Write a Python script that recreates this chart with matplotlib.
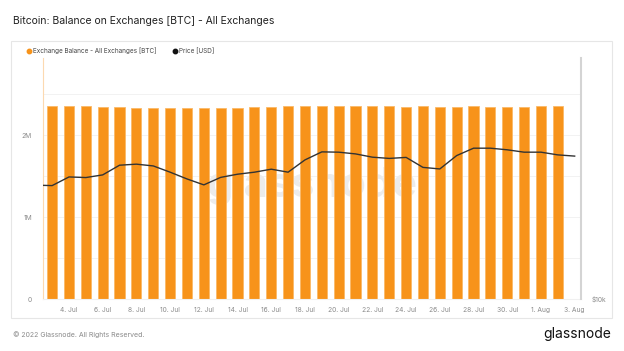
import numpy as np
import pandas as pd
from matplotlib import pyplot as plt
from matplotlib.lines import Line2D
from matplotlib.patches import Rectangle
from matplotlib.ticker import FixedLocator, FuncFormatter, NullLocator
import matplotlib.dates as mdates

plt.rcParams['font.family'] = ['Inter', 'DejaVu Sans']

# exchange balance, daily 3 Jul - 2 Aug 2022 (BTC)
balance_dates = pd.date_range("2022-07-03", "2022-08-02", freq="D")
balance = [2.357e6, 2.357e6, 2.356e6, 2.345e6, 2.337e6, 2.330e6, 2.330e6, 2.330e6,
           2.330e6, 2.335e6, 2.328e6, 2.326e6, 2.337e6, 2.345e6, 2.352e6, 2.358e6,
           2.358e6, 2.354e6, 2.354e6, 2.350e6, 2.349e6, 2.348e6, 2.351e6, 2.348e6,
           2.348e6, 2.349e6, 2.341e6, 2.341e6, 2.337e6, 2.349e6, 2.349e6]

# BTC price, daily 2 Jul - 3 Aug 2022 (USD)
price_dates = pd.date_range("2022-07-02", "2022-08-03", freq="D")
price = [19250, 19200, 20180, 20110, 20420, 21590, 21720, 21500, 20740, 19950,
         19280, 20130, 20500, 20740, 21100, 20740, 22260, 23310, 23270, 23040,
         22610, 22450, 22580, 21320, 21130, 22820, 23810, 23810, 23590, 23270,
         23270, 22910, 22750]

tick_dates = pd.date_range("2022-07-04", "2022-08-03", freq="2D")

orange = "#F7931A"
grey_txt = "#8a8a8a"

fig = plt.figure(figsize=(6.24, 3.51), dpi=100)
ax = fig.add_axes([43/624, 1-299/351, 538/624, 241/351])

# card behind the chart
fig.patches.append(Rectangle((11/624, 1-318/351), 601/624, 277/351, transform=fig.transFigure,
                             facecolor="white", edgecolor="#e6e6e6", lw=0.8, zorder=-10))

ax.bar(balance_dates, balance, width=0.6, color=orange, edgecolor="#FBB968", lw=0.6, zorder=2)
ax.set_ylim(0, 2.94e6)
ax.set_xlim(pd.Timestamp("2022-07-02 11:00"), pd.Timestamp("2022-08-03 09:00"))
ax.yaxis.set_major_locator(FixedLocator([0, 1e6, 2e6]))
ax.yaxis.set_minor_locator(FixedLocator([0.5e6, 1.5e6, 2.5e6]))
ax.yaxis.set_major_formatter(FuncFormatter(lambda v, p: "0" if v == 0 else f"{v/1e6:.0f}M"))
ax.grid(axis="y", which="both", color="#f2f2f2", lw=0.7, zorder=0)
ax.set_axisbelow(True)
ax.set_xticks(tick_dates)
ax.set_xticklabels([f"{d.day}. {d.strftime('%b')}" for d in tick_dates])
ax.tick_params(axis="both", which="both", length=0, labelsize=4.8, colors=grey_txt, pad=6)
ax.tick_params(axis="y", pad=8)
for s in ["top", "right"]:
    ax.spines[s].set_visible(False)
ax.spines["left"].set_color("#FCD9B0")
ax.spines["left"].set_linewidth(0.8)
ax.spines["bottom"].set_color("#f0f0f0")
ax.spines["bottom"].set_linewidth(0.8)

# watermark
ax.text(0.5, 0.47, "glassnode", transform=ax.transAxes, ha="center", va="center",
        fontsize=30, color="#ececec", fontweight="bold", zorder=1)

ax2 = ax.twinx()
ax2.plot(price_dates, price, color="#333333", lw=1.0, zorder=3)
ax2.set_yscale("log")
ax2.set_ylim(10000, 40000)
ax2.yaxis.set_major_locator(FixedLocator([10000]))
ax2.yaxis.set_minor_locator(NullLocator())
ax2.yaxis.set_major_formatter(FuncFormatter(lambda v, p: "$10k"))
ax2.tick_params(axis="y", length=0, labelsize=4.8, colors=grey_txt, pad=8)
for s in ["top", "left", "bottom"]:
    ax2.spines[s].set_visible(False)
ax2.spines["right"].set_color("#d4d4d4")
ax2.spines["right"].set_linewidth(1.5)

handles = [Line2D([], [], ls="", marker="o", ms=3.2, color=orange),
           Line2D([], [], ls="", marker="o", ms=3.2, color="#111111")]
fig.legend(handles, ["Exchange Balance - All Exchanges [BTC]", "Price [USD]"],
           loc="center left", bbox_to_anchor=(20/624, 1-51/351), ncol=2, frameon=False,
           fontsize=4.6, handletextpad=0.2, columnspacing=2.3, handlelength=1.0,
           labelcolor="#444444")

fig.text(13/624, 1-21/351, "Bitcoin: Balance on Exchanges [BTC] - All Exchanges",
         fontsize=7.5, color="#222222", va="center", ha="left")
fig.text(13/624, 1-335/351, "© 2022 Glassnode. All Rights Reserved.",
         fontsize=5.0, color=grey_txt, va="center", ha="left")
fig.text(611/624, 1-334/351, "glassnode", fontsize=10, color="#111111",
         va="center", ha="right")

plt.savefig("out.png", dpi=100)
plt.close()
